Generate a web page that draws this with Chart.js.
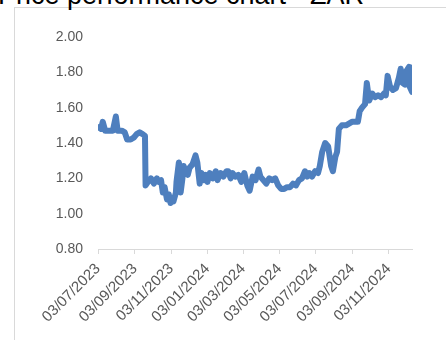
<!DOCTYPE html>
<html>
<head>
<meta charset="utf-8">
<script src="https://cdn.jsdelivr.net/npm/chart.js@4/dist/chart.umd.min.js"></script>
<style>
  html, body { margin: 0; padding: 0; background: #fff; overflow: hidden; }
  #wrap { position: relative; width: 446px; height: 340px; overflow: hidden; }
  .frame { position: absolute; left: 14px; top: 7px; width: 600px; height: 600px; border: 1px solid #d9d9d9; }
  .title { position: absolute; left: -2px; top: -18px; font: 27px "Liberation Sans", Arial, sans-serif; line-height: 27px; color: #000; white-space: nowrap; }
  #chart { position: absolute; left: 0; top: 0; }
</style>
</head>
<body>
<div id="wrap">
  <div class="frame"></div>
  <div class="title">Price performance chart - ZAR</div>
  <canvas id="chart" width="446" height="340"></canvas>
</div>
<script>
const dates = [
  '2023-07-03', '2023-07-08', '2023-07-11', '2023-07-15', '2023-07-21', '2023-07-28', '2023-08-02', '2023-08-05',
  '2023-08-12', '2023-08-17', '2023-08-21', '2023-08-27', '2023-09-01', '2023-09-06', '2023-09-11', '2023-09-16',
  '2023-09-20', '2023-09-21', '2023-09-25', '2023-09-30', '2023-10-05', '2023-10-10', '2023-10-13', '2023-10-17',
  '2023-10-20', '2023-10-23', '2023-10-27', '2023-10-30', '2023-11-02', '2023-11-04', '2023-11-07', '2023-11-11',
  '2023-11-12', '2023-11-16', '2023-11-17', '2023-11-19', '2023-11-22', '2023-11-24', '2023-11-27', '2023-12-01',
  '2023-12-04', '2023-12-09', '2023-12-14', '2023-12-17', '2023-12-21', '2023-12-24', '2023-12-28', '2023-12-31',
  '2024-01-03', '2024-01-07', '2024-01-12', '2024-01-17', '2024-01-20', '2024-01-25', '2024-01-30', '2024-02-04',
  '2024-02-07', '2024-02-11', '2024-02-14', '2024-02-19', '2024-02-24', '2024-02-29', '2024-03-05', '2024-03-10',
  '2024-03-14', '2024-03-19', '2024-03-24', '2024-03-29', '2024-04-01', '2024-04-06', '2024-04-11', '2024-04-16',
  '2024-04-21', '2024-04-26', '2024-05-01', '2024-05-06', '2024-05-11', '2024-05-16', '2024-05-21', '2024-05-26',
  '2024-05-31', '2024-06-05', '2024-06-10', '2024-06-15', '2024-06-19', '2024-06-22', '2024-06-27', '2024-07-02',
  '2024-07-07', '2024-07-10', '2024-07-14', '2024-07-19', '2024-07-24', '2024-07-29', '2024-08-01', '2024-08-05',
  '2024-08-08', '2024-08-11', '2024-08-16', '2024-08-23', '2024-08-28', '2024-09-02', '2024-09-07', '2024-09-12',
  '2024-09-15', '2024-09-19', '2024-09-24', '2024-09-27', '2024-10-01', '2024-10-06', '2024-10-11', '2024-10-16',
  '2024-10-21', '2024-10-26', '2024-10-29', '2024-11-01', '2024-11-05', '2024-11-10', '2024-11-15', '2024-11-20',
  '2024-11-23', '2024-11-26', '2024-11-30', '2024-12-03', '2024-12-07', '2024-12-08', '2024-12-12'
];
const prices = [
  1.49, 1.48, 1.52, 1.47, 1.47, 1.47, 1.55, 1.47,
  1.47, 1.46, 1.42, 1.42, 1.43, 1.45, 1.46, 1.45,
  1.44, 1.16, 1.18, 1.20, 1.17, 1.20, 1.18, 1.19,
  1.12, 1.15, 1.08, 1.11, 1.06, 1.08, 1.07, 1.12,
  1.18, 1.29, 1.27, 1.12, 1.20, 1.27, 1.24, 1.22,
  1.26, 1.28, 1.33, 1.29, 1.17, 1.23, 1.19, 1.22,
  1.18, 1.23, 1.20, 1.24, 1.19, 1.23, 1.21, 1.24,
  1.24, 1.20, 1.23, 1.21, 1.22, 1.18, 1.23, 1.16,
  1.13, 1.21, 1.19, 1.25, 1.21, 1.19, 1.17, 1.20,
  1.19, 1.20, 1.16, 1.14, 1.14, 1.15, 1.15, 1.17,
  1.16, 1.19, 1.20, 1.24, 1.21, 1.23, 1.21, 1.24,
  1.23, 1.27, 1.35, 1.40, 1.38, 1.27, 1.24, 1.32,
  1.35, 1.48, 1.50, 1.50, 1.51, 1.52, 1.52, 1.52,
  1.58, 1.60, 1.62, 1.74, 1.64, 1.68, 1.66, 1.67,
  1.66, 1.68, 1.67, 1.78, 1.72, 1.70, 1.71, 1.77,
  1.82, 1.74, 1.73, 1.81, 1.83, 1.72, 1.69
];
const tickLabels = ['03/07/2023', '03/09/2023', '03/11/2023', '03/01/2024', '03/03/2024',
                    '03/05/2024', '03/07/2024', '03/09/2024', '03/11/2024'];
const yMin = 0.8, yMax = 2.0, yStep = 0.2;

// days since epoch, so the x axis is a plain linear scale
function isoDay(s) {
    const [y, m, d] = s.split('-').map(Number);
    return Date.UTC(y, m - 1, d) / 86400000;
}
function labelDay(s) {
    const [d, m, y] = s.split('/').map(Number);
    return Date.UTC(y, m - 1, d) / 86400000;
}

const points = dates.map((d, i) => ({ x: isoDay(d), y: prices[i] }));
const tickDays = tickLabels.map(labelDay);
const family = '"Liberation Sans", Arial, sans-serif';

new Chart(document.getElementById('chart'), {
    type: 'line',
    data: {
        datasets: [{
            data: points,
            borderColor: '#4e7fbe',
            borderWidth: 6,
            borderJoinStyle: 'round',
            borderCapStyle: 'round',
            pointRadius: 0,
            tension: 0,
            fill: false
        }]
    },
    options: {
        responsive: false,
        animation: false,
        devicePixelRatio: 1,
        layout: { padding: { top: 37, right: 34, left: 0, bottom: 0 } },
        plugins: { legend: { display: false }, tooltip: { enabled: false } },
        scales: {
            x: {
                type: 'linear',
                min: points[0].x,
                max: points[points.length - 1].x,
                afterBuildTicks: (scale) => { scale.ticks = tickDays.map(v => ({ value: v })); },
                afterFit: (scale) => { scale.height = 91; },
                grid: { display: true, drawOnChartArea: false, drawTicks: true, tickLength: 5, color: '#d9d9d9' },
                border: { display: true, color: '#d9d9d9' },
                ticks: {
                    autoSkip: false,
                    maxRotation: 45,
                    minRotation: 45,
                    padding: 6,
                    color: '#595959',
                    font: { family, size: 15 },
                    callback: (v) => {
                        const i = tickDays.indexOf(v);
                        return i >= 0 ? tickLabels[i] : '';
                    }
                }
            },
            y: {
                min: yMin,
                max: yMax,
                afterFit: (scale) => { scale.width = 98; },
                grid: { display: false, drawTicks: false },
                border: { display: false },
                ticks: {
                    stepSize: yStep,
                    padding: 15,
                    color: '#595959',
                    font: { family, size: 14 },
                    callback: (v) => v.toFixed(2)
                }
            }
        }
    }
});
</script>
</body>
</html>
